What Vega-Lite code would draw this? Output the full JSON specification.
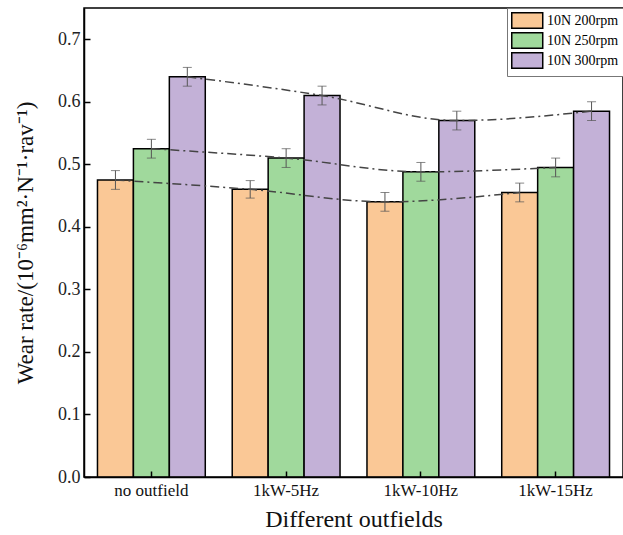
{
  "$schema": "https://vega.github.io/schema/vega-lite/v6.json",
  "width": 539,
  "height": 469,
  "autosize": {"type": "none"},
  "padding": {"left": 84, "top": 8, "right": 0, "bottom": 58},
  "config": {
    "font": "Liberation Serif",
    "axis": {"labelFont": "Liberation Serif", "titleFont": "Liberation Serif"},
    "legend": {"labelFont": "Liberation Serif"},
    "view": {"stroke": "black", "strokeWidth": 1.5}
  },
  "data": {
    "values": [
      {"field": "no outfield", "load": "10N 200rpm", "value": 0.475, "lo": 0.46, "hi": 0.49},
      {"field": "1kW-5Hz", "load": "10N 200rpm", "value": 0.46, "lo": 0.446, "hi": 0.474},
      {"field": "1kW-10Hz", "load": "10N 200rpm", "value": 0.44, "lo": 0.425, "hi": 0.455},
      {"field": "1kW-15Hz", "load": "10N 200rpm", "value": 0.455, "lo": 0.44, "hi": 0.47},
      {"field": "no outfield", "load": "10N 250rpm", "value": 0.525, "lo": 0.51, "hi": 0.54},
      {"field": "1kW-5Hz", "load": "10N 250rpm", "value": 0.51, "lo": 0.495, "hi": 0.525},
      {"field": "1kW-10Hz", "load": "10N 250rpm", "value": 0.488, "lo": 0.473, "hi": 0.503},
      {"field": "1kW-15Hz", "load": "10N 250rpm", "value": 0.495, "lo": 0.48, "hi": 0.51},
      {"field": "no outfield", "load": "10N 300rpm", "value": 0.64, "lo": 0.625, "hi": 0.655},
      {"field": "1kW-5Hz", "load": "10N 300rpm", "value": 0.61, "lo": 0.595, "hi": 0.625},
      {"field": "1kW-10Hz", "load": "10N 300rpm", "value": 0.57, "lo": 0.555, "hi": 0.585},
      {"field": "1kW-15Hz", "load": "10N 300rpm", "value": 0.585, "lo": 0.57, "hi": 0.6}
    ]
  },
  "encoding": {
    "x": {
      "field": "field",
      "type": "nominal",
      "sort": ["no outfield", "1kW-5Hz", "1kW-10Hz", "1kW-15Hz"],
      "scale": {"paddingInner": 0.2, "paddingOuter": 0.1},
      "title": "Different outfields",
      "axis": {
        "labelAngle": 0,
        "labelFontSize": 17,
        "labelColor": "#111",
        "labelPadding": 11,
        "tickSize": -6,
        "tickColor": "black",
        "tickWidth": 1.5,
        "domainColor": "black",
        "domainWidth": 1.5,
        "titleFontSize": 24,
        "titleFontWeight": "normal",
        "titleColor": "#111",
        "titlePadding": 9,
        "zindex": 1
      }
    },
    "xOffset": {
      "field": "load",
      "type": "nominal",
      "sort": ["10N 200rpm", "10N 250rpm", "10N 300rpm"]
    }
  },
  "layer": [
    {
      "mark": {"type": "bar", "stroke": "black", "strokeWidth": 1.5},
      "encoding": {
        "y": {
          "field": "value",
          "type": "quantitative",
          "scale": {"domain": [0, 0.75], "nice": false},
          "title": "Wear rate/(10⁻⁶mm²·N⁻¹·rav⁻¹)",
          "axis": {
            "values": [0, 0.05, 0.1, 0.15, 0.2, 0.25, 0.3, 0.35, 0.4, 0.45, 0.5, 0.55, 0.6, 0.65, 0.7],
            "labelExpr": "round(datum.value*20)%2==0 ? format(datum.value,'.1f') : ''",
            "tickSize": {"condition": {"test": "round(datum.value*20)%2==0", "value": -6}, "value": -3},
            "labelFontSize": 18,
            "labelColor": "#222",
            "labelPadding": 10,
            "tickColor": "black",
            "tickWidth": 1.5,
            "domainColor": "black",
            "domainWidth": 1.5,
            "grid": false,
            "titleFontSize": 23,
            "titleFontWeight": "normal",
            "titleColor": "#111",
            "titlePadding": 20,
            "zindex": 1
          }
        },
        "color": {
          "field": "load",
          "type": "nominal",
          "scale": {
            "domain": ["10N 200rpm", "10N 250rpm", "10N 300rpm"],
            "range": ["#FAC896", "#A0D99C", "#C3B1D7"]
          },
          "legend": {
            "title": null,
            "orient": "top-right",
            "offset": 0,
            "fillColor": "white",
            "strokeColor": "#777",
            "padding": 4,
            "symbolType": "M-1,-1H3V1H-1Z",
            "symbolSize": 240,
            "symbolStrokeColor": "black",
            "symbolStrokeWidth": 1.5,
            "symbolOpacity": 1,
            "labelFontSize": 14,
            "labelColor": "black",
            "labelOffset": 19,
            "rowPadding": -5
          }
        }
      }
    },
    {
      "mark": {"type": "line", "color": "#444", "strokeDash": [9, 4, 2, 4], "strokeWidth": 1.5, "interpolate": "monotone"},
      "encoding": {
        "y": {"field": "value", "type": "quantitative"},
        "detail": {"field": "load"},
        "order": {"value": null}
      }
    },
    {
      "mark": {"type": "rule", "color": "#555", "strokeWidth": 1},
      "encoding": {
        "y": {"field": "lo", "type": "quantitative"},
        "y2": {"field": "hi"}
      }
    },
    {
      "mark": {"type": "tick", "color": "#555", "thickness": 1, "size": 9},
      "encoding": {"y": {"field": "lo", "type": "quantitative"}}
    },
    {
      "mark": {"type": "tick", "color": "#555", "thickness": 1, "size": 9},
      "encoding": {"y": {"field": "hi", "type": "quantitative"}}
    }
  ]
}
